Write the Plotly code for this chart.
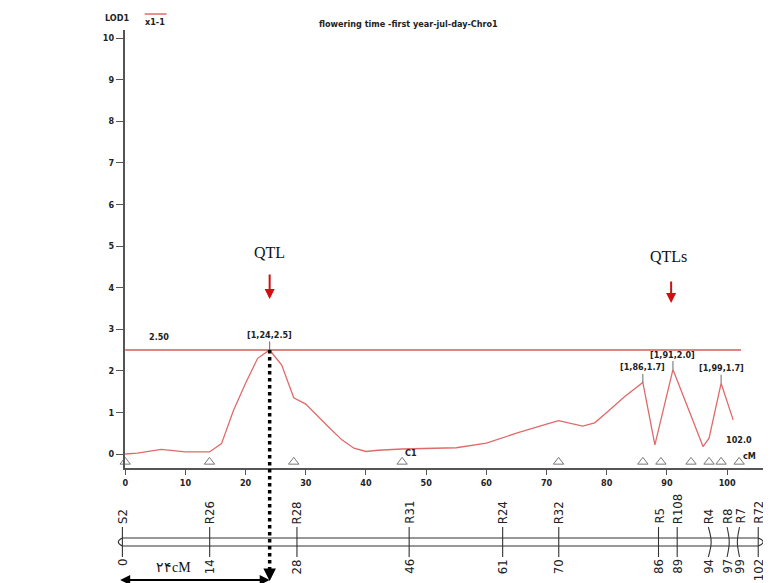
import plotly.graph_objects as go

# ---------------- data ----------------
lod_pos = [0, 2, 6, 10, 14, 16, 18, 20, 22, 24, 26, 28, 30, 32, 34, 36, 38, 40, 42, 46,
           50, 55, 60, 65, 70, 72, 76, 78, 80, 83, 86, 88, 91, 96, 97, 99, 101]
lod_val = [0.0, 0.02, 0.11, 0.05, 0.05, 0.25, 1.05, 1.7, 2.3, 2.5, 2.14, 1.35, 1.2, 0.9, 0.62, 0.34, 0.14, 0.06, 0.09, 0.12,
           0.13, 0.15, 0.26, 0.5, 0.72, 0.8, 0.67, 0.75, 1.0, 1.38, 1.72, 0.22, 2.03, 0.18, 0.38, 1.7, 0.82]
threshold = 2.5
threshold_end = 102.3
triangle_pos = [0, 14, 28, 46, 72, 86, 89, 94, 97, 99, 102]
peak_pos = [24, 86, 91, 99]
peak_val = [2.5, 1.72, 2.03, 1.70]
peak_labels = ["[1,24,2.5]", "[1,86,1.7]", "[1,91,2.0]", "[1,99,1.7]"]
marker_names = ["S2", "R26", "R28", "R31", "R24", "R32", "R5", "R108", "R4", "R8", "R7", "R72"]
marker_pos = [0, 14, 28, 46, 61, 70, 86, 89, 94, 97, 99, 102]
x_ticks = [0, 10, 20, 30, 40, 50, 60, 70, 80, 90, 100]
y_ticks = [0, 1, 2, 3, 4, 5, 6, 7, 8, 9, 10]
chrom_len = 102

# ---------------- geometry / styles ----------------
OFF = 8                      # page body margin offset
W, H = 771 - OFF, 583 - OFF
X0PX, XS = 123.5 - OFF, 6.035      # main plot: px = X0PX + XS*cM
Y0PX, YS = 454.0 - OFF, 41.6       # main plot: py = Y0PX - YS*LOD
M0PX, MS = 120.7 - OFF, 6.25       # map: px = M0PX + MS*cM
ax_left, ax_right, ax_top, ax_bot = 123 - OFF, 763 - OFF, 30 - OFF, 468 - OFF

xr = [(ax_left - X0PX) / XS, (ax_right - X0PX) / XS]
yr = [(Y0PX - ax_bot) / YS, (Y0PX - ax_top) / YS]
ydom = [1 - ax_bot / H, 1 - ax_top / H]


def ypaper(v):
    return ydom[0] + (v - yr[0]) / (yr[1] - yr[0]) * (ydom[1] - ydom[0])


def paper_y(py):          # py in reference-picture pixels
    return 1 - (py - OFF) / H


def paper_x(px):
    return (px - OFF) / W


def map_y(py):            # reference pixel -> map axis value
    return 583 - py


RED = "#e06a6a"
NARROW = "Liberation Sans Narrow, DejaVu Sans Condensed, Arial Narrow, sans-serif"
SERIF = "Liberation Serif, Times New Roman, DejaVu Serif, serif"
bend = {94: 0.45, 97: 0.35, 99: -0.35}

fig = go.Figure()

# LOD curve
fig.add_trace(go.Scatter(x=lod_pos, y=lod_val, mode="lines",
                         line=dict(color=RED, width=1.3), xaxis="x", yaxis="y",
                         hoverinfo="skip", showlegend=False))
# threshold
fig.add_trace(go.Scatter(x=[0, threshold_end], y=[threshold, threshold], mode="lines",
                         line=dict(color="#d45a5a", width=1.3), xaxis="x", yaxis="y",
                         hoverinfo="skip", showlegend=False))
# marker triangles on axis
fig.add_trace(go.Scatter(x=triangle_pos, y=[-0.19] * len(triangle_pos), mode="markers",
                         marker=dict(symbol="triangle-up-open", size=9, color="#777",
                                     line=dict(width=1)),
                         xaxis="x", yaxis="y", hoverinfo="skip", showlegend=False, cliponaxis=False))

# chromosome map: two rails
for yv in (map_y(538), map_y(546)):
    fig.add_trace(go.Scatter(x=[0, chrom_len], y=[yv, yv], mode="lines",
                             line=dict(color="#333", width=1.2), xaxis="x2", yaxis="y2",
                             hoverinfo="skip", showlegend=False))
# marker ticks
ytop, ymid, ybot = map_y(527), map_y(542), map_y(557)
for p in marker_pos:
    b = bend.get(p, 0)
    if b:
        fig.add_trace(go.Scatter(x=[p, p + b, p], y=[ytop, ymid, ybot], mode="lines",
                                 line=dict(color="#333", width=1.1, shape="spline"),
                                 xaxis="x2", yaxis="y2", hoverinfo="skip", showlegend=False))
    else:
        fig.add_trace(go.Scatter(x=[p, p], y=[ytop, ybot], mode="lines",
                                 line=dict(color="#333", width=1.1),
                                 xaxis="x2", yaxis="y2", hoverinfo="skip", showlegend=False))

shapes = []
r1, r2, rm = map_y(538), map_y(546), map_y(542)
shapes.append(dict(type="path", xref="x2", yref="y2",
                   path=f"M 0,{r1} Q -1.3,{rm} 0,{r2}", line=dict(color="#333", width=1.2)))
shapes.append(dict(type="path", xref="x2", yref="y2",
                   path=f"M {chrom_len},{r1} Q {chrom_len + 1.6},{rm} {chrom_len},{r2}",
                   line=dict(color="#333", width=1.2)))
# dotted line from main peak downward
shapes.append(dict(type="line", xref="x", yref="paper", x0=peak_pos[0], x1=peak_pos[0],
                   y0=ypaper(peak_val[0]), y1=paper_y(572),
                   line=dict(color="black", width=3.5, dash="dot")))
# legend line
shapes.append(dict(type="line", xref="paper", yref="paper", x0=paper_x(143), x1=paper_x(165),
                   y0=paper_y(14), y1=paper_y(14), line=dict(color=RED, width=1.5)))

ann = []
for p, v, t in zip(peak_pos, peak_val, peak_labels):
    ann.append(dict(x=p, y=v, xref="x", yref="y", text=f"<b>{t}</b>", showarrow=True, arrowhead=0,
                    arrowwidth=0.8, arrowcolor="#444", ax=0, ay=-15,
                    font=dict(family=NARROW, size=9, color="#222")))
ann.append(dict(x=5.6, y=threshold, xref="x", yref="y", text="<b>2.50</b>", showarrow=False,
                yshift=13, font=dict(family=NARROW, size=9, color="#222")))
ann.append(dict(x=46, y=0.02, xref="x", yref="y", text="<b>C1</b>", showarrow=False,
                xshift=9, font=dict(family=NARROW, size=9, color="#222")))
ann.append(dict(x=chrom_len, y=0.34, xref="x", yref="y", text="<b>102.0</b>", showarrow=False,
                font=dict(family=NARROW, size=9, color="#222")))
ann.append(dict(x=chrom_len, y=-0.05, xref="x", yref="y", text="<b>cM</b>", showarrow=False,
                xshift=10, font=dict(family=NARROW, size=9, color="#222")))
# QTL labels and red arrows
ann.append(dict(x=24, y=(Y0PX - (253 - OFF)) / YS, xref="x", yref="y", text="QTL", showarrow=False,
                font=dict(family=SERIF, size=16, color="#111")))
ann.append(dict(x=24, y=(Y0PX - (299 - OFF)) / YS, xref="x", yref="y", text="", showarrow=True,
                ax=0, ay=-26, arrowhead=2, arrowsize=1, arrowwidth=2, arrowcolor="#d01010"))
ann.append(dict(x=90.2, y=(Y0PX - (257 - OFF)) / YS, xref="x", yref="y", text="QTLs", showarrow=False,
                font=dict(family=SERIF, size=16, color="#111")))
ann.append(dict(x=90.7, y=(Y0PX - (303 - OFF)) / YS, xref="x", yref="y", text="", showarrow=True,
                ax=0, ay=-23, arrowhead=2, arrowsize=1, arrowwidth=2, arrowcolor="#d01010"))
# title, legend labels
ann.append(dict(x=paper_x(408), y=paper_y(24), xref="paper", yref="paper",
                xanchor="center", yanchor="middle",
                text="<b>flowering time -first year-jul-day-Chro1</b>", showarrow=False,
                font=dict(family=NARROW, size=9, color="#222")))
ann.append(dict(x=paper_x(115), y=paper_y(18), xref="paper", yref="paper", text="<b>LOD1</b>",
                xanchor="center", yanchor="middle",
                showarrow=False, font=dict(family=NARROW, size=9, color="#222")))
ann.append(dict(x=paper_x(153), y=paper_y(22), xref="paper", yref="paper", text="<b>x1-1</b>",
                xanchor="center", yanchor="middle",
                showarrow=False, font=dict(family=NARROW, size=9, color="#222")))
# map labels
for n, p in zip(marker_names, marker_pos):
    ann.append(dict(x=p, y=map_y(526), xref="x2", yref="y2", text=n, textangle=-90,
                    showarrow=False, yanchor="bottom", xanchor="center",
                    font=dict(family=NARROW, size=13, color="#222")))
    ann.append(dict(x=p, y=map_y(557), xref="x2", yref="y2", text=str(p), textangle=-90,
                    showarrow=False, yanchor="top", xanchor="center",
                    font=dict(family=NARROW, size=13, color="#222")))
# arrowhead at bottom of dotted line
ann.append(dict(x=peak_pos[0], y=map_y(581), xref="x", yref="y2", text="", showarrow=True,
                ax=0, ay=-10, arrowhead=2, arrowsize=1, arrowwidth=2.5, arrowcolor="black"))
# double-headed distance arrow
ann.append(dict(x=peak_pos[0], y=map_y(580), xref="x", yref="y2", ax=(117 - OFF - X0PX) / XS,
                ay=map_y(580), axref="x", ayref="y2", text="", showarrow=True,
                arrowhead=2, startarrowhead=2, arrowside="end+start", arrowsize=1,
                arrowwidth=2, arrowcolor="black"))
ann.append(dict(x=paper_x(152), y=paper_y(567), xref="paper", yref="paper", text="۲۴cM",
                xanchor="left", yanchor="middle",
                showarrow=False, font=dict(family=SERIF, size=14, color="#111")))

fig.update_layout(
    width=W, height=H, margin=dict(l=0, r=0, t=0, b=0),
    paper_bgcolor="white", plot_bgcolor="white", showlegend=False,
    xaxis=dict(domain=[ax_left / W, ax_right / W], range=xr, tickvals=x_ticks,
               ticktext=[f"<b>{t}</b>" for t in x_ticks],
               ticks="outside", ticklen=5, tickcolor="#555", showline=True, linecolor="#555",
               linewidth=1.5, showgrid=False, zeroline=False, anchor="y",
               tickfont=dict(family=NARROW, size=9, color="#222")),
    yaxis=dict(domain=ydom, range=yr, tickvals=y_ticks,
               ticktext=[f"<b>{t}</b>" for t in y_ticks],
               ticks="outside", ticklen=7, tickcolor="#555", showline=True, linecolor="#555",
               linewidth=1.5, showgrid=False, zeroline=False, anchor="x",
               tickfont=dict(family=NARROW, size=9, color="#222")),
    xaxis2=dict(domain=[0, 1], range=[-M0PX / MS, (W - M0PX) / MS], visible=False, anchor="y2"),
    yaxis2=dict(domain=[0, (583 - 470) / H], range=[0, 113], visible=False, anchor="x2"),
    shapes=shapes, annotations=ann,
)

fig.write_html("out.html")
